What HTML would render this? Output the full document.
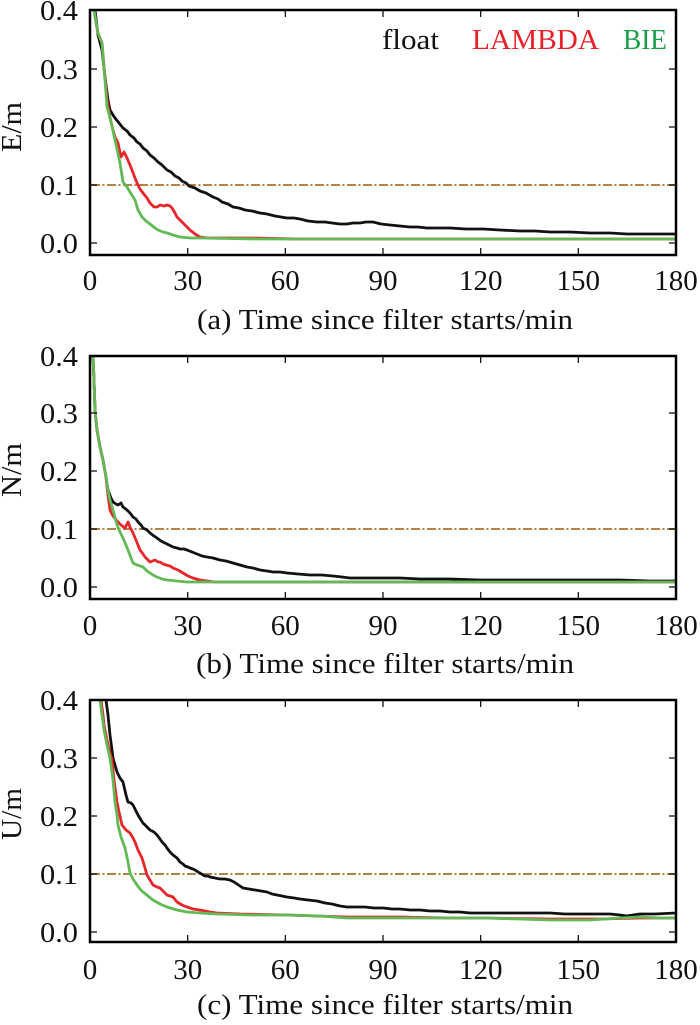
<!DOCTYPE html>
<html>
<head>
<meta charset="utf-8">
<style>
html,body{margin:0;padding:0;background:#fff;}
svg{display:block;}
text{font-family:"Liberation Serif","Times New Roman",serif;}
</style>
</head>
<body>
<svg width="700" height="1025" viewBox="0 0 700 1025" xmlns="http://www.w3.org/2000/svg">
<rect width="700" height="1025" fill="#fff"/>

<!-- ================= PANEL A ================= -->
<g>
  <line x1="91" y1="185" x2="675" y2="185" stroke="#a8702e" stroke-width="1.8" stroke-dasharray="9 2.5 2 2.5"/>
  <polyline fill="none" stroke="#111" stroke-width="2.8" stroke-linejoin="round" points="95,10 98,35 102,50 105,77 108,100 110,110 113,115 115,118 119,123 123,128 127,131 130,135 134,138 137,142 140,144 143,148 147,151 150,155 154,158 158,162 162,165 167,170 171,172 175,176 179,178 182,181 186,183 189,186 195,188 200,191 206,193 213,197 218,199 222,202 228,204 233,207 239,208 245,210 252,211 260,213 267,214 275,216 281,217 287,218 294,218 300,219 308,221 317,222 325,222 332,223 340,224 347,224 353,223 360,223 366,222 373,222 381,224 390,225 400,226 410,227 418,227 427,228 438,228 450,228 466,229 483,229 500,230 520,231 535,231 550,232 570,232 590,233 610,233 627,234 645,234 660,234 676,234"/>
  <polyline fill="none" stroke="#e8262a" stroke-width="2.8" stroke-linejoin="round" points="94,10 96,22 98,33 102,43 104,67 105,77 107,100 110,118 113,130 115,137 118,143 121,157 124,152 127,158 130,165 132,170 135,178 137,183 140,189 143,193 147,198 150,203 154,207 157,207 160,205 164,206 167,205 170,206 172,208 175,213 177,217 180,220 183,223 187,227 190,230 195,234 200,237 207,238 213,238 250,238 300,239 400,239 500,239 600,239 676,239"/>
  <polyline fill="none" stroke="#62b955" stroke-width="2.8" stroke-linejoin="round" points="94,10 96,22 98,33 102,43 104,67 107,107 110,117 115,140 120,163 123,182 127,187 130,192 135,200 138,210 142,217 146,221 150,224 155,228 158,230 163,232 167,233 173,235 180,237 190,238 200,238 260,239 350,239 450,239 550,239 676,239"/>
  <rect x="90" y="10" width="586" height="245" fill="none" stroke="#000" stroke-width="2.5"/>
  <g stroke="#000" stroke-width="1.2">
    <line x1="91" y1="243" x2="97" y2="243"/><line x1="91" y1="185" x2="97" y2="185"/><line x1="91" y1="127" x2="97" y2="127"/><line x1="91" y1="69" x2="97" y2="69"/>
    <line x1="675" y1="243" x2="669" y2="243"/><line x1="675" y1="185" x2="669" y2="185"/><line x1="675" y1="127" x2="669" y2="127"/><line x1="675" y1="69" x2="669" y2="69"/>
    <line x1="187.7" y1="254" x2="187.7" y2="248"/><line x1="285.3" y1="254" x2="285.3" y2="248"/><line x1="383" y1="254" x2="383" y2="248"/><line x1="480.7" y1="254" x2="480.7" y2="248"/><line x1="578.3" y1="254" x2="578.3" y2="248"/>
    <line x1="187.7" y1="11" x2="187.7" y2="17"/><line x1="285.3" y1="11" x2="285.3" y2="17"/><line x1="383" y1="11" x2="383" y2="17"/><line x1="480.7" y1="11" x2="480.7" y2="17"/><line x1="578.3" y1="11" x2="578.3" y2="17"/>
  </g>
  <g font-size="29" fill="#111" text-anchor="end">
    <text x="78" y="20" textLength="38" lengthAdjust="spacingAndGlyphs">0.4</text>
    <text x="78" y="79" textLength="38" lengthAdjust="spacingAndGlyphs">0.3</text>
    <text x="78" y="137" textLength="38" lengthAdjust="spacingAndGlyphs">0.2</text>
    <text x="78" y="195" textLength="38" lengthAdjust="spacingAndGlyphs">0.1</text>
    <text x="78" y="253" textLength="38" lengthAdjust="spacingAndGlyphs">0.0</text>
  </g>
  <g font-size="29" fill="#111" text-anchor="middle">
    <text x="90" y="290">0</text>
    <text x="187.7" y="290">30</text>
    <text x="285.3" y="290">60</text>
    <text x="383" y="290">90</text>
    <text x="480.7" y="290">120</text>
    <text x="578.3" y="290">150</text>
    <text x="676" y="290">180</text>
  </g>
  <text x="385" y="329" font-size="29" fill="#111" text-anchor="middle" textLength="376" lengthAdjust="spacingAndGlyphs">(a) Time since filter starts/min</text>
  <text transform="translate(21,127) rotate(-90)" font-size="29" fill="#111" text-anchor="middle" textLength="50" lengthAdjust="spacingAndGlyphs">E/m</text>
  <text x="382" y="49" font-size="29" fill="#111" textLength="57" lengthAdjust="spacingAndGlyphs">float</text>
  <text x="472" y="49" font-size="29" fill="#e8202a" textLength="127" lengthAdjust="spacingAndGlyphs">LAMBDA</text>
  <text x="623" y="49" font-size="29" fill="#1a9e48" textLength="44" lengthAdjust="spacingAndGlyphs">BIE</text>
</g>

<!-- ================= PANEL B ================= -->
<g>
  <line x1="91" y1="529" x2="675" y2="529" stroke="#a8702e" stroke-width="1.8" stroke-dasharray="9 2.5 2 2.5"/>
  <polyline fill="none" stroke="#111" stroke-width="2.8" stroke-linejoin="round" points="93,356 94,380 95,410 97,430 100,447 103,460 106,477 108,490 111,498 113,502 116,504 118,505 121,503 123,507 127,510 130,513 133,517 136,519 138,522 141,525 143,528 147,530 150,533 154,536 157,538 161,541 165,543 169,545 173,547 177,548 180,549 184,549 187,550 192,552 197,554 202,556 207,557 213,558 220,560 226,561 233,563 240,565 247,567 253,568 260,570 267,571 273,572 280,572 287,573 298,574 310,575 322,575 333,576 342,577 350,578 365,578 380,578 400,578 420,579 450,579 480,580 520,580 560,580 590,580 620,580 650,581 676,581"/>
  <polyline fill="none" stroke="#e8262a" stroke-width="2.8" stroke-linejoin="round" points="93,356 94,380 95,410 97,430 100,447 103,460 106,477 108,495 110,510 113,516 117,521 121,525 125,528 128,522 130,527 133,533 136,540 140,550 143,554 145,557 148,560 150,562 155,560 158,562 160,562 163,564 166,565 170,566 173,568 178,570 183,573 188,576 193,578 200,580 207,581 215,582 250,582 350,582 450,582 550,582 676,582"/>
  <polyline fill="none" stroke="#62b955" stroke-width="2.8" stroke-linejoin="round" points="93,356 94,380 95,410 97,430 100,447 103,460 106,477 108,490 110,500 113,510 117,525 120,532 123,538 126,545 128,550 131,558 133,563 137,565 140,566 143,567 147,571 150,573 153,575 157,577 162,579 167,580 177,581 187,582 250,582 350,582 450,582 550,582 676,582"/>
  <rect x="90" y="356" width="586" height="243" fill="none" stroke="#000" stroke-width="2.5"/>
  <g stroke="#000" stroke-width="1.2">
    <line x1="91" y1="587" x2="97" y2="587"/><line x1="91" y1="529" x2="97" y2="529"/><line x1="91" y1="471" x2="97" y2="471"/><line x1="91" y1="413" x2="97" y2="413"/>
    <line x1="675" y1="587" x2="669" y2="587"/><line x1="675" y1="529" x2="669" y2="529"/><line x1="675" y1="471" x2="669" y2="471"/><line x1="675" y1="413" x2="669" y2="413"/>
    <line x1="187.7" y1="598" x2="187.7" y2="592"/><line x1="285.3" y1="598" x2="285.3" y2="592"/><line x1="383" y1="598" x2="383" y2="592"/><line x1="480.7" y1="598" x2="480.7" y2="592"/><line x1="578.3" y1="598" x2="578.3" y2="592"/>
    <line x1="187.7" y1="357" x2="187.7" y2="363"/><line x1="285.3" y1="357" x2="285.3" y2="363"/><line x1="383" y1="357" x2="383" y2="363"/><line x1="480.7" y1="357" x2="480.7" y2="363"/><line x1="578.3" y1="357" x2="578.3" y2="363"/>
  </g>
  <g font-size="29" fill="#111" text-anchor="end">
    <text x="78" y="366" textLength="38" lengthAdjust="spacingAndGlyphs">0.4</text>
    <text x="78" y="423" textLength="38" lengthAdjust="spacingAndGlyphs">0.3</text>
    <text x="78" y="481" textLength="38" lengthAdjust="spacingAndGlyphs">0.2</text>
    <text x="78" y="539" textLength="38" lengthAdjust="spacingAndGlyphs">0.1</text>
    <text x="78" y="597" textLength="38" lengthAdjust="spacingAndGlyphs">0.0</text>
  </g>
  <g font-size="29" fill="#111" text-anchor="middle">
    <text x="90" y="635">0</text>
    <text x="187.7" y="635">30</text>
    <text x="285.3" y="635">60</text>
    <text x="383" y="635">90</text>
    <text x="480.7" y="635">120</text>
    <text x="578.3" y="635">150</text>
    <text x="676" y="635">180</text>
  </g>
  <text x="385" y="673" font-size="29" fill="#111" text-anchor="middle" textLength="378" lengthAdjust="spacingAndGlyphs">(b) Time since filter starts/min</text>
  <text transform="translate(21,470) rotate(-90)" font-size="29" fill="#111" text-anchor="middle" textLength="54" lengthAdjust="spacingAndGlyphs">N/m</text>
</g>

<!-- ================= PANEL C ================= -->
<g>
  <line x1="91" y1="874" x2="675" y2="874" stroke="#a8702e" stroke-width="1.8" stroke-dasharray="9 2.5 2 2.5"/>
  <polyline fill="none" stroke="#111" stroke-width="2.8" stroke-linejoin="round" points="106,700 108,715 110,735 112,750 113,758 115,765 117,772 120,778 123,782 126,795 128,802 131,803 133,805 136,811 138,815 141,820 143,823 147,827 150,830 154,832 157,835 160,839 162,842 165,845 167,848 170,852 173,855 177,858 180,862 183,864 185,866 188,867 190,868 193,869 195,870 198,872 200,873 203,875 205,876 208,876 210,877 215,878 220,879 225,879 230,880 234,882 237,884 240,886 243,888 249,889 255,890 261,891 267,892 272,894 277,895 282,896 287,897 294,898 300,899 308,900 317,901 325,903 332,904 340,906 347,907 356,907 365,907 374,908 383,908 392,909 400,909 410,910 420,910 430,911 440,911 450,912 460,912 470,913 483,913 500,913 520,913 535,913 550,913 565,914 580,914 595,914 610,914 620,915 627,916 633,915 640,914 655,914 676,913"/>
  <polyline fill="none" stroke="#e8262a" stroke-width="2.8" stroke-linejoin="round" points="101,700 103,715 104,725 106,735 108,745 110,753 112,760 114,780 117,802 119,812 122,825 126,830 130,833 133,838 135,842 138,850 142,858 145,868 147,875 150,880 153,885 157,887 160,888 164,892 167,895 170,896 173,897 177,902 182,905 187,907 193,909 200,910 210,912 217,913 240,914 287,915 347,917 400,917 450,918 483,918 550,919 600,919 640,918 676,918"/>
  <polyline fill="none" stroke="#62b955" stroke-width="2.8" stroke-linejoin="round" points="100,700 102,715 104,730 107,745 110,758 113,780 115,802 117,815 118,825 121,837 125,848 128,862 130,873 133,879 137,885 140,889 143,892 148,896 153,900 160,904 167,907 177,910 187,912 200,913 217,914 250,915 287,915 320,916 347,918 400,918 440,918 483,918 520,919 550,920 575,920 590,920 605,919 620,918 640,917 660,918 676,918"/>
  <rect x="90" y="700" width="586" height="242" fill="none" stroke="#000" stroke-width="2.5"/>
  <g stroke="#000" stroke-width="1.2">
    <line x1="91" y1="932" x2="97" y2="932"/><line x1="91" y1="874" x2="97" y2="874"/><line x1="91" y1="816" x2="97" y2="816"/><line x1="91" y1="758" x2="97" y2="758"/>
    <line x1="675" y1="932" x2="669" y2="932"/><line x1="675" y1="874" x2="669" y2="874"/><line x1="675" y1="816" x2="669" y2="816"/><line x1="675" y1="758" x2="669" y2="758"/>
    <line x1="187.7" y1="941" x2="187.7" y2="935"/><line x1="285.3" y1="941" x2="285.3" y2="935"/><line x1="383" y1="941" x2="383" y2="935"/><line x1="480.7" y1="941" x2="480.7" y2="935"/><line x1="578.3" y1="941" x2="578.3" y2="935"/>
    <line x1="187.7" y1="701" x2="187.7" y2="707"/><line x1="285.3" y1="701" x2="285.3" y2="707"/><line x1="383" y1="701" x2="383" y2="707"/><line x1="480.7" y1="701" x2="480.7" y2="707"/><line x1="578.3" y1="701" x2="578.3" y2="707"/>
  </g>
  <g font-size="29" fill="#111" text-anchor="end">
    <text x="78" y="710" textLength="38" lengthAdjust="spacingAndGlyphs">0.4</text>
    <text x="78" y="768" textLength="38" lengthAdjust="spacingAndGlyphs">0.3</text>
    <text x="78" y="826" textLength="38" lengthAdjust="spacingAndGlyphs">0.2</text>
    <text x="78" y="884" textLength="38" lengthAdjust="spacingAndGlyphs">0.1</text>
    <text x="78" y="942" textLength="38" lengthAdjust="spacingAndGlyphs">0.0</text>
  </g>
  <g font-size="29" fill="#111" text-anchor="middle">
    <text x="90" y="979">0</text>
    <text x="187.7" y="979">30</text>
    <text x="285.3" y="979">60</text>
    <text x="383" y="979">90</text>
    <text x="480.7" y="979">120</text>
    <text x="578.3" y="979">150</text>
    <text x="676" y="979">180</text>
  </g>
  <text x="385" y="1014" font-size="29" fill="#111" text-anchor="middle" textLength="376" lengthAdjust="spacingAndGlyphs">(c) Time since filter starts/min</text>
  <text transform="translate(21,814) rotate(-90)" font-size="29" fill="#111" text-anchor="middle" textLength="52" lengthAdjust="spacingAndGlyphs">U/m</text>
</g>
</svg>
</body>
</html>
